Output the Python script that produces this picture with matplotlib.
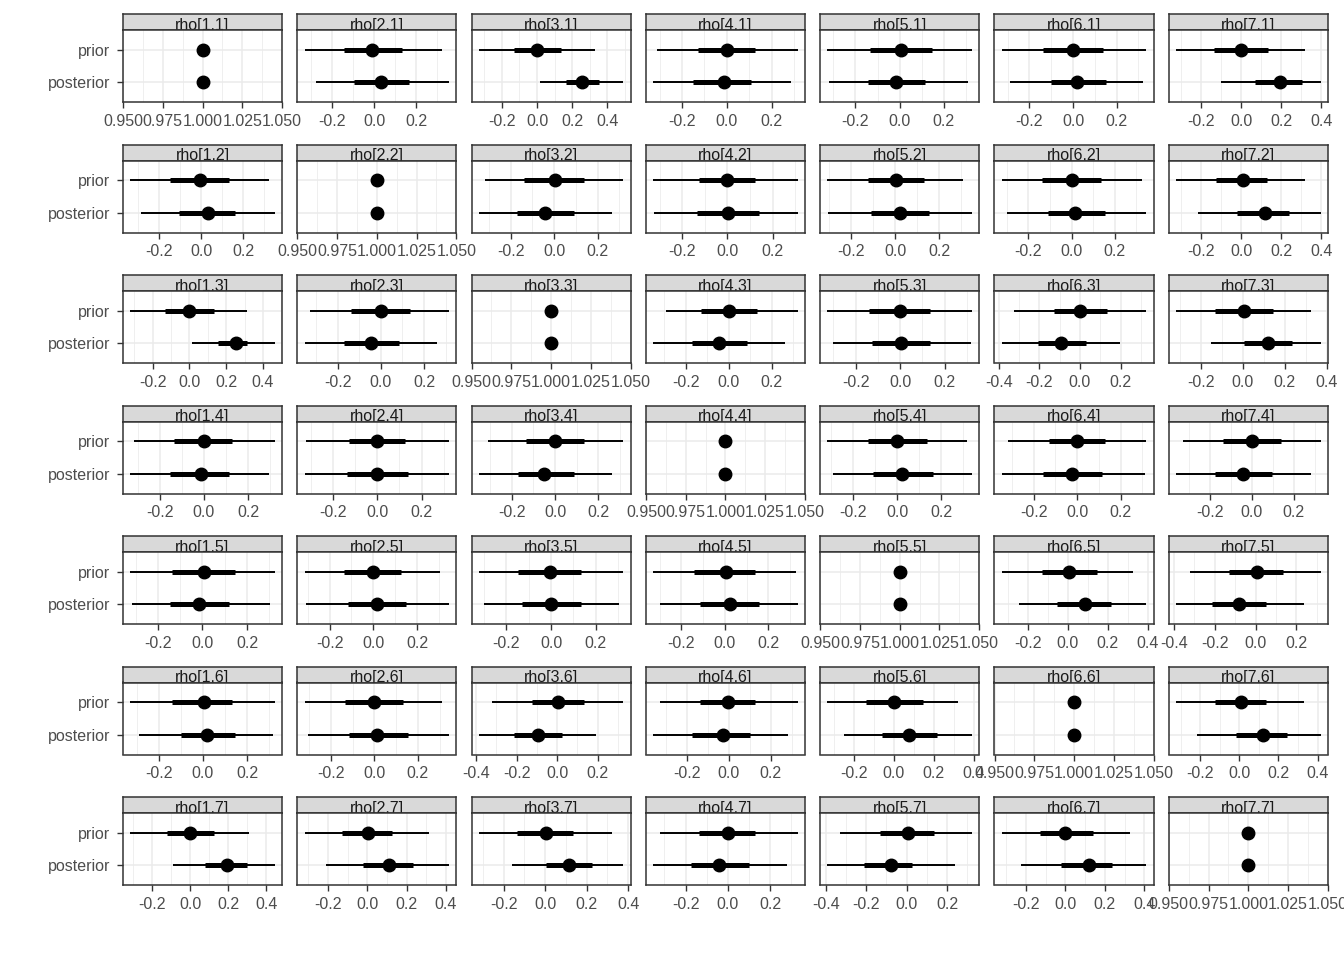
import matplotlib
matplotlib.use("Agg")
import matplotlib.pyplot as plt
from matplotlib.ticker import MultipleLocator, FormatStrFormatter

plt.rcParams["font.family"] = ["Liberation Sans", "DejaVu Sans"]
plt.rcParams["axes.unicode_minus"] = False

# rows = second index j of rho[i,j], columns = first index i
prior_mid = [
    [1, -0.01, 0.0, 0.0, 0.005, 0.0, 0.0],
    [-0.005, 1, 0.005, 0.0, 0.005, 0.0, 0.01],
    [0.0, 0.0, 1, 0.0, 0.0, 0.0, 0.005],
    [0.0, 0.0, 0.0, 1, 0.0, 0.0, 0.0],
    [0.005, 0.0, -0.005, 0.005, 1, 0.005, 0.005],
    [0.005, 0.0, 0.005, -0.005, 0.003, 1, 0.007],
    [0.0, 0.005, 0.005, 0.0, 0.005, 0.0, 1],
]
prior_lo66 = [
    [1, -0.143, -0.13, -0.129, -0.136, -0.138, -0.134],
    [-0.146, 1, -0.138, -0.124, -0.123, -0.138, -0.127],
    [-0.131, -0.14, 1, -0.128, -0.141, -0.129, -0.133],
    [-0.135, -0.13, -0.135, 1, -0.132, -0.129, -0.138],
    [-0.135, -0.132, -0.149, -0.14, 1, -0.13, -0.13],
    [-0.142, -0.133, -0.124, -0.136, -0.139, 1, -0.125],
    [-0.122, -0.127, -0.135, -0.135, -0.132, -0.128, 1],
]
prior_hi66 = [
    [1, 0.133, 0.137, 0.124, 0.145, 0.138, 0.134],
    [0.132, 1, 0.138, 0.12, 0.132, 0.138, 0.127],
    [0.131, 0.135, 1, 0.133, 0.136, 0.134, 0.143],
    [0.126, 0.126, 0.135, 1, 0.136, 0.129, 0.138],
    [0.144, 0.127, 0.135, 0.14, 1, 0.148, 0.135],
    [0.133, 0.133, 0.134, 0.127, 0.146, 1, 0.136],
    [0.122, 0.127, 0.135, 0.13, 0.137, 0.138, 1],
]
prior_lo95 = [
    [1, -0.333, -0.331, -0.311, -0.327, -0.327, -0.326],
    [-0.335, 1, -0.318, -0.329, -0.309, -0.323, -0.325],
    [-0.322, -0.326, 1, -0.294, -0.327, -0.327, -0.319],
    [-0.315, -0.324, -0.312, 1, -0.318, -0.318, -0.329],
    [-0.324, -0.314, -0.324, -0.33, 1, -0.33, -0.321],
    [-0.33, -0.321, -0.322, -0.329, -0.333, 1, -0.323],
    [-0.317, -0.32, -0.319, -0.321, -0.328, -0.323, 1],
]
prior_hi95 = [
    [1, 0.324, 0.331, 0.316, 0.327, 0.336, 0.316],
    [0.321, 1, 0.318, 0.311, 0.309, 0.327, 0.32],
    [0.311, 0.316, 1, 0.321, 0.323, 0.327, 0.324],
    [0.32, 0.324, 0.316, 1, 0.318, 0.318, 0.329],
    [0.324, 0.305, 0.324, 0.326, 1, 0.329, 0.318],
    [0.326, 0.312, 0.327, 0.329, 0.322, 1, 0.33],
    [0.307, 0.315, 0.324, 0.33, 0.324, 0.328, 1],
]

post_mid = [
    [1, 0.033, 0.257, -0.013, -0.018, 0.018, 0.193],
    [0.033, 1, -0.041, 0.004, 0.023, 0.018, 0.117],
    [0.251, -0.047, 1, -0.046, 0.005, -0.094, 0.119],
    [-0.014, 0.0, -0.051, 1, 0.023, -0.023, -0.043],
    [-0.014, 0.018, 0.0, 0.023, 1, 0.085, -0.079],
    [0.018, 0.014, -0.094, -0.028, 0.078, 1, 0.12],
    [0.19, 0.112, 0.116, -0.042, -0.078, 0.118, 1],
]
post_lo66 = [
    [1, -0.095, 0.166, -0.151, -0.145, -0.1, 0.07],
    [-0.104, 1, -0.17, -0.133, -0.109, -0.11, -0.02],
    [0.158, -0.172, 1, -0.174, -0.127, -0.208, 0.005],
    [-0.153, -0.135, -0.172, 1, -0.109, -0.157, -0.176],
    [-0.144, -0.118, -0.131, -0.116, 1, -0.054, -0.215],
    [-0.101, -0.115, -0.213, -0.174, -0.057, 1, -0.019],
    [0.079, -0.02, 0.005, -0.172, -0.211, -0.021, 1],
]
post_hi66 = [
    [1, 0.167, 0.354, 0.107, 0.114, 0.152, 0.305],
    [0.16, 1, 0.092, 0.138, 0.155, 0.157, 0.239],
    [0.311, 0.084, 1, 0.083, 0.136, 0.03, 0.233],
    [0.113, 0.14, 0.088, 1, 0.164, 0.115, 0.095],
    [0.117, 0.15, 0.135, 0.158, 1, 0.217, 0.051],
    [0.147, 0.156, 0.025, 0.099, 0.218, 1, 0.245],
    [0.296, 0.234, 0.227, 0.098, 0.025, 0.236, 1],
]
post_lo95 = [
    [1, -0.276, 0.017, -0.329, -0.318, -0.29, -0.1],
    [-0.283, 1, -0.346, -0.324, -0.305, -0.3, -0.213],
    [0.016, -0.353, 1, -0.353, -0.3, -0.386, -0.152],
    [-0.333, -0.329, -0.353, 1, -0.291, -0.346, -0.362],
    [-0.315, -0.309, -0.302, -0.298, 1, -0.245, -0.389],
    [-0.289, -0.303, -0.386, -0.362, -0.249, 1, -0.217],
    [-0.09, -0.213, -0.159, -0.353, -0.392, -0.226, 1],
]
post_hi95 = [
    [1, 0.357, 0.491, 0.284, 0.309, 0.32, 0.396],
    [0.349, 1, 0.267, 0.311, 0.35, 0.346, 0.396],
    [0.464, 0.26, 1, 0.261, 0.318, 0.198, 0.371],
    [0.293, 0.324, 0.265, 1, 0.341, 0.313, 0.281],
    [0.302, 0.345, 0.306, 0.335, 1, 0.393, 0.236],
    [0.317, 0.344, 0.193, 0.282, 0.392, 1, 0.415],
    [0.444, 0.416, 0.377, 0.279, 0.24, 0.41, 1],
]

y_labels = ["posterior", "prior"]

W, H = 1344, 960
fig = plt.figure(figsize=(W / 100, H / 100), dpi=100)

pw, ph, sh = 159, 72, 16
grey_txt = "#4D4D4D"
dark = "#333333"
fs = 11.5


def draw_range(ax, y, mid, lo66, hi66, lo95, hi95):
    ax.plot([lo95, hi95], [y, y], color="black", lw=1.4, solid_capstyle="butt", zorder=3)
    ax.plot([lo66, hi66], [y, y], color="black", lw=3.6, solid_capstyle="butt", zorder=3)
    ax.plot(mid, y, "o", color="black", ms=9, zorder=4)


for r in range(7):
    for c in range(7):
        left = 123 + c * 174.3
        top = 30 + r * 130.5

        # strip
        sax = fig.add_axes([left / W, 1 - top / H, pw / W, sh / H])
        sax.set_facecolor("#D9D9D9")
        sax.set_xticks([])
        sax.set_yticks([])
        for s in sax.spines.values():
            s.set_color(dark)
            s.set_linewidth(1.1)
        sax.text(0.5, 0.3, "rho[%d,%d]" % (c + 1, r + 1), ha="center", va="center",
                 fontsize=fs, color="#1A1A1A", transform=sax.transAxes)

        ax = fig.add_axes([left / W, 1 - (top + ph) / H, pw / W, ph / H])
        draw_range(ax, 2, prior_mid[r][c], prior_lo66[r][c], prior_hi66[r][c],
                   prior_lo95[r][c], prior_hi95[r][c])
        draw_range(ax, 1, post_mid[r][c], post_lo66[r][c], post_hi66[r][c],
                   post_lo95[r][c], post_hi95[r][c])

        vals = [prior_lo95[r][c], prior_hi95[r][c], post_lo95[r][c], post_hi95[r][c],
                prior_mid[r][c], post_mid[r][c]]
        lo, hi = min(vals), max(vals)
        if hi - lo < 1e-9:
            ax.set_xlim(lo * 0.95, hi * 1.05)
            ax.xaxis.set_major_locator(MultipleLocator(0.025))
            ax.xaxis.set_minor_locator(MultipleLocator(0.0125))
            ax.xaxis.set_major_formatter(FormatStrFormatter("%.3f"))
        else:
            pad = (hi - lo) * 0.05
            ax.set_xlim(lo - pad, hi + pad)
            ax.xaxis.set_major_locator(MultipleLocator(0.2))
            ax.xaxis.set_minor_locator(MultipleLocator(0.1))
            ax.xaxis.set_major_formatter(FormatStrFormatter("%.1f"))

        ax.set_ylim(0.4, 2.6)
        ax.set_yticks([1, 2])
        ax.set_yticklabels(y_labels)
        ax.grid(which="major", color="#EBEBEB", lw=1.1, zorder=0)
        ax.grid(which="minor", axis="x", color="#EBEBEB", lw=0.55, zorder=0)
        ax.set_axisbelow(True)
        ax.tick_params(which="major", length=4.5, width=1.0, color=dark,
                       labelcolor=grey_txt, labelsize=fs)
        ax.tick_params(axis="x", pad=4.0)
        ax.tick_params(axis="y", pad=4.8)
        ax.tick_params(which="minor", length=0)
        if c > 0:
            ax.tick_params(axis="y", left=False, labelleft=False)
        for s in ax.spines.values():
            s.set_color(dark)
            s.set_linewidth(1.1)

fig.savefig("out.png", dpi=100, facecolor="white")
